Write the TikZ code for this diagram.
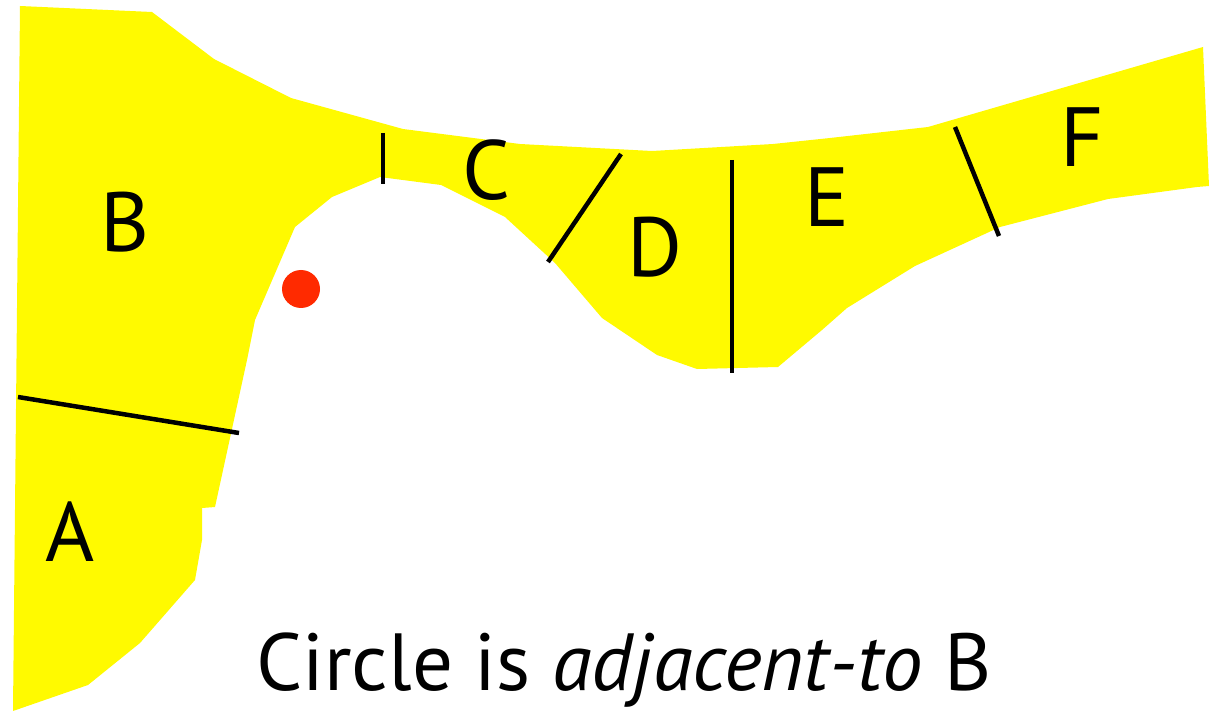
\documentclass[tikz,border=0pt]{standalone}
\usepackage{fontspec}
\setmainfont{PT Sans}
\usetikzlibrary{positioning}
\definecolor{lemon}{HTML}{FFFA00}
\definecolor{dotred}{HTML}{FF2A00}
\tikzset{
  region/.style={fill=lemon,draw=none},
  cut/.style={black,line width=4.5pt},
  lbl/.style={font=\fontsize{84}{90}\selectfont,inner sep=0pt},
}

\begin{document}
\begin{tikzpicture}[x=1pt,y=-1pt]
\useasboundingbox (0,0) rectangle (1210,711);
% the yellow area
\fill[region] (20,6) -- (152,12) -- (214,59) -- (291,98) -- (403,129) -- (520,144)
  -- (652,151) -- (773,144) -- (830,138) -- (928,127) -- (1203,47) -- (1209,186)
  -- (1197,187) -- (1108,199) -- (1000,227) -- (915,266) -- (847,308) -- (822,330)
  -- (778,367) -- (697,369) -- (657,355) -- (602,318) -- (555,263) -- (505,217)
  -- (441,185) -- (380,177) -- (332,197) -- (295,227) -- (255,320) -- (247,360)
  -- (215,507) -- (202,508) -- (202,540) -- (195,580) -- (140,643) -- (88,685)
  -- (13,711) -- cycle;
% borders between the parts
\coordinate (ab1) at (18,397);  \coordinate (ab2) at (239,433);
\coordinate (bc1) at (383,133); \coordinate (bc2) at (383,184);
\coordinate (cd1) at (621,154); \coordinate (cd2) at (548,262);
\coordinate (de1) at (732,160); \coordinate (de2) at (732,373);
\coordinate (ef1) at (955,127); \coordinate (ef2) at (999,236);
\draw[cut] (ab1) -- (ab2);
\draw[cut] (bc1) -- (bc2);
\draw[cut] (cd1) -- (cd2);
\draw[cut] (de1) -- (de2);
\draw[cut] (ef1) -- (ef2);
% part names
\node[lbl] (a) at (70,532) {A};
\node[lbl] (b) at (125,222) {B};
\node[lbl] (c) at (486,170) {C};
\node[lbl] (d) at (655,247) {D};
\node[lbl] (e) at (827,197) {E};
\node[lbl] (f) at (1082,137) {F};
\node[circle,fill=dotred,minimum size=38pt,inner sep=0pt] (dot) at (301,289) {};
\node[lbl,font=\fontsize{81}{88}\selectfont,anchor=base] (caption) at (624,690)
  {Circle is \textit{adjacent-to} B};
\end{tikzpicture}
\end{document}
